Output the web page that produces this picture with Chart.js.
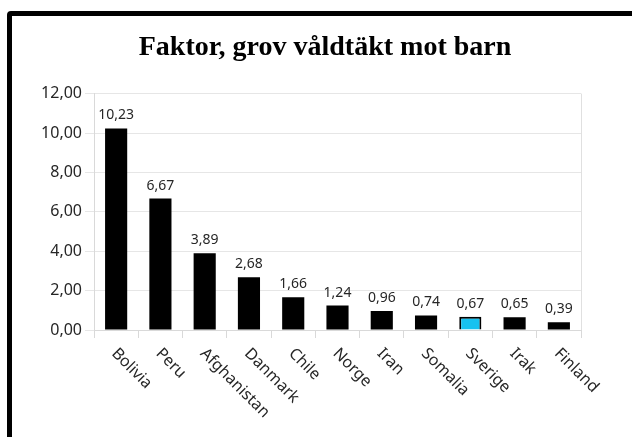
<!DOCTYPE html>
<html><head><meta charset="utf-8">
<script src="https://cdn.jsdelivr.net/npm/chart.js@4/dist/chart.umd.min.js"></script>
<style>
html,body{margin:0;padding:0;background:#fff;width:632px;height:437px;overflow:hidden;}
#frame{position:absolute;left:7px;top:11px;width:720px;height:520px;border:5px solid #000;border-radius:4px;box-sizing:border-box;}
#wrap{position:absolute;left:0;top:0;width:632px;height:437px;}
</style></head><body>
<div id="frame"></div>
<div id="wrap"><canvas id="c" width="632" height="437"></canvas></div>
<script>
const titleText = 'Faktor, grov våldtäkt mot barn';
const categories = ['Bolivia','Peru','Afghanistan','Danmark','Chile','Norge','Iran','Somalia','Sverige','Irak','Finland'];
const values = [10.23, 6.67, 3.89, 2.68, 1.66, 1.24, 0.96, 0.74, 0.67, 0.65, 0.39];
const highlighted = 'Sverige';
const yMin = 0, yMax = 12, yStep = 2;

const fmt = v => Number(v).toFixed(2).replace('.', ',');
const textColor = '#262626';

const xLabelPlugin = {
  id: 'xLabels',
  afterDraw(chart) {
    const ctx = chart.ctx, xs = chart.scales.x, bottom = chart.chartArea.bottom;
    ctx.save();
    ctx.font = '16px "Noto Sans"';
    ctx.fillStyle = textColor;
    ctx.textAlign = 'left';
    ctx.textBaseline = 'middle';
    categories.forEach((c, i) => {
      const x = xs.getPixelForValue(i);
      ctx.save();
      ctx.translate(x - 2, bottom + 21);
      ctx.rotate(Math.PI / 4);
      ctx.fillText(c, 0, 0);
      ctx.restore();
    });
    ctx.restore();
  }
};

const dataLabelPlugin = {
  id: 'dataLabels',
  afterDatasetsDraw(chart) {
    const ctx = chart.ctx;
    const meta = chart.getDatasetMeta(0);
    ctx.save();
    ctx.font = '14px "Noto Sans"';
    ctx.fillStyle = textColor;
    ctx.textAlign = 'center';
    ctx.textBaseline = 'alphabetic';
    meta.data.forEach((bar, i) => {
      ctx.fillText(fmt(values[i]), bar.x, bar.y - 9);
    });
    ctx.restore();
  }
};

const edgePlugin = {
  id: 'edge',
  beforeDatasetsDraw(chart) {
    const {ctx, chartArea} = chart;
    ctx.save();
    ctx.strokeStyle = '#e0e0e0';
    ctx.lineWidth = 1;
    ctx.beginPath();
    ctx.moveTo(Math.round(chartArea.right) + 0.5, chartArea.top);
    ctx.lineTo(Math.round(chartArea.right) + 0.5, chartArea.bottom);
    ctx.stroke();
    ctx.restore();
  }
};

new Chart(document.getElementById('c'), {
  type: 'bar',
  data: {
    labels: categories,
    datasets: [{
      data: values,
      backgroundColor: categories.map(c => c === highlighted ? '#17c2f0' : '#000000'),
      borderColor: '#000000',
      borderWidth: categories.map(c => c === highlighted ? 2 : 0),
      barPercentage: 0.5,
      categoryPercentage: 1.0
    }]
  },
  options: {
    responsive: false,
    animation: false,
    devicePixelRatio: 1,
    layout: { padding: { left: 28, right: 10, top: 0, bottom: 0 } },
    plugins: {
      legend: { display: false },
      tooltip: { enabled: false },
      title: {
        display: true,
        text: titleText,
        color: '#000000',
        font: { family: '"Liberation Serif"', size: 28, weight: 'bold', lineHeight: 1.2 },
        padding: { top: 31, bottom: 29 }
      }
    },
    scales: {
      x: {
        offset: true,
        grid: { offset: true, drawOnChartArea: false, drawTicks: true, tickLength: 8, color: '#d9d9d9' },
        border: { display: true, color: '#d9d9d9' },
        ticks: { display: false },
        afterFit(scale) { scale.height = 107; }
      },
      y: {
        min: yMin, max: yMax,
        ticks: {
          stepSize: yStep,
          padding: 3,
          color: textColor,
          font: { family: '"Noto Sans"', size: 16 },
          callback: v => fmt(v)
        },
        grid: { color: '#e6e6e6', tickLength: 9 },
        border: { display: true, color: '#d9d9d9' },
        afterFit(scale) { scale.width = 66; }
      },
      yRight: {
        position: 'right',
        display: true,
        min: yMin, max: yMax,
        ticks: { display: false },
        grid: { display: false },
        border: { display: false },
        afterFit(scale) { scale.width = 41; }
      }
    }
  },
  plugins: [xLabelPlugin, dataLabelPlugin, edgePlugin]
});
</script>
</body></html>
